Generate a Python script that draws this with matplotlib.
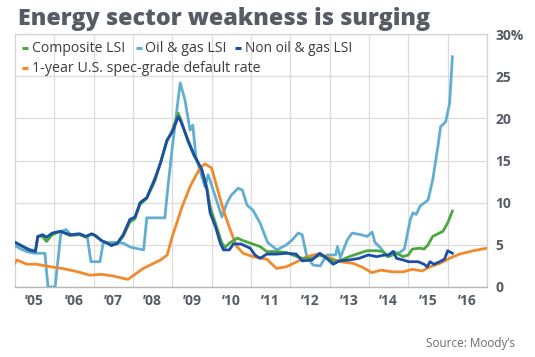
import matplotlib
matplotlib.use("Agg")
import matplotlib.pyplot as plt
import numpy as np

# ---- data (years as decimal, values in %) ----
comp_x = [2005.0, 2005.2, 2005.4, 2005.52, 2005.58, 2005.7, 2005.8, 2005.95, 2006.15, 2006.4, 2006.65, 2006.8,
          2006.95, 2007.05, 2007.2, 2007.45, 2007.6, 2007.75, 2007.92, 2008.05, 2008.18, 2008.35, 2008.56, 2008.7,
          2008.86, 2009.0, 2009.15, 2009.22, 2009.4, 2009.55, 2009.75, 2009.88, 2009.96, 2010.1, 2010.25, 2010.34,
          2010.45, 2010.65, 2010.8, 2010.98, 2011.23, 2011.4, 2011.65, 2011.9, 2012.17, 2012.3, 2012.55, 2012.75,
          2012.9, 2013.15, 2013.3, 2013.5, 2013.75, 2013.95, 2014.2, 2014.35, 2014.5, 2014.6, 2014.7, 2014.87,
          2015.0, 2015.1, 2015.3, 2015.4, 2015.5, 2015.62, 2015.75, 2015.88, 2016.0, 2016.12]
comp_y = [5.3, 4.8, 4.4, 4.3, 6.0, 6.0, 5.4, 6.2, 6.6, 6.1, 6.2, 5.9,
          6.3, 6.0, 5.5, 5.0, 5.1, 6.0, 7.7, 8.1, 9.8, 10.5, 12.6, 14.8,
          17.2, 18.6, 20.6, 19.8, 17.2, 15.6, 13.9, 11.8, 9.5, 7.5, 5.3, 4.7,
          5.2, 5.8, 5.5, 5.2, 4.8, 4.2, 4.2, 4.1, 3.6, 3.4, 3.4, 3.8,
          3.5, 3.0, 3.2, 3.6, 4.0, 4.3, 4.3, 4.2, 3.6, 3.8, 4.0, 3.6,
          3.8, 4.5, 4.6, 4.5, 5.0, 6.0, 6.3, 6.6, 7.6, 9.0]

oil_x = [2005.0, 2005.15, 2005.3, 2005.5, 2005.76, 2005.84, 2006.02, 2006.17, 2006.3, 2006.42, 2006.6, 2006.84,
         2006.93, 2007.16, 2007.24, 2007.5, 2007.75, 2007.95, 2008.27, 2008.35, 2008.81, 2008.88, 2009.0, 2009.2,
         2009.32, 2009.45, 2009.52, 2009.6, 2009.83, 2009.91, 2010.04, 2010.26, 2010.39, 2010.5, 2010.67, 2010.78,
         2010.9, 2011.05, 2011.23, 2011.42, 2011.66, 2011.9, 2012.05, 2012.2, 2012.3, 2012.42, 2012.58, 2012.76,
         2012.93, 2013.15, 2013.2, 2013.27, 2013.45, 2013.57, 2013.8, 2013.95, 2014.08, 2014.15, 2014.3, 2014.46,
         2014.6, 2014.75, 2014.9, 2014.98, 2015.05, 2015.12, 2015.2, 2015.3, 2015.5, 2015.62, 2015.75, 2015.82,
         2015.95, 2016.05, 2016.12]
oil_y = [4.9, 4.5, 4.2, 4.0, 4.0, 0.0, 0.0, 6.6, 6.8, 6.2, 6.3, 5.9,
         3.0, 3.0, 5.2, 5.3, 5.2, 4.7, 4.4, 8.2, 8.2, 11.5, 16.6, 24.2,
         22.2, 18.6, 19.2, 15.4, 11.9, 13.3, 11.5, 8.3, 10.0, 10.9, 11.7, 11.5,
         9.7, 9.1, 7.6, 5.3, 4.4, 5.0, 5.6, 6.4, 6.2, 3.6, 2.6, 2.5,
         3.8, 3.8, 4.8, 3.5, 5.6, 6.4, 6.2, 6.0, 6.5, 5.3, 4.6, 3.6,
         4.2, 4.0, 4.5, 6.4, 8.0, 8.8, 8.6, 9.6, 10.3, 12.7, 16.6, 19.0,
         19.6, 21.8, 27.3]

non_x = [2005.0, 2005.2, 2005.35, 2005.52, 2005.58, 2005.7, 2005.8, 2005.95, 2006.15, 2006.4, 2006.65, 2006.8,
         2006.95, 2007.05, 2007.2, 2007.35, 2007.45, 2007.6, 2007.75, 2007.92, 2008.05, 2008.18, 2008.35, 2008.56,
         2008.7, 2008.86, 2009.0, 2009.15, 2009.22, 2009.4, 2009.55, 2009.75, 2009.88, 2009.96, 2010.1, 2010.22,
         2010.3, 2010.45, 2010.55, 2010.75, 2010.98, 2011.1, 2011.23, 2011.4, 2011.65, 2011.9, 2012.15, 2012.3,
         2012.55, 2012.75, 2012.9, 2013.09, 2013.25, 2013.5, 2013.75, 2013.98, 2014.2, 2014.4, 2014.5, 2014.62,
         2014.7, 2014.87, 2015.0, 2015.25, 2015.4, 2015.48, 2015.55, 2015.65, 2015.8, 2015.92, 2016.0, 2016.12]
non_y = [5.3, 4.8, 4.4, 4.2, 6.0, 6.2, 5.9, 6.4, 6.6, 6.2, 6.3, 6.0,
         6.3, 6.1, 5.5, 5.2, 4.9, 5.2, 6.2, 8.0, 8.3, 10.0, 10.6, 12.9,
         14.7, 17.4, 18.4, 20.2, 19.6, 17.4, 15.7, 13.9, 11.5, 8.8, 7.1, 5.2,
         4.4, 4.4, 5.1, 5.1, 4.6, 3.8, 3.4, 3.9, 3.9, 4.0, 3.9, 3.1,
         3.2, 4.0, 3.5, 2.7, 3.1, 3.2, 3.4, 3.8, 3.6, 3.8, 3.8, 4.2,
         3.4, 3.2, 3.0, 3.0, 2.7, 2.4, 3.0, 2.7, 3.0, 3.3, 4.3, 4.0]

dflt_x = [2005.0, 2005.05, 2005.3, 2005.55, 2005.9, 2006.2, 2006.6, 2006.9, 2007.2, 2007.5, 2007.87, 2008.26,
          2008.7, 2008.87, 2009.0, 2009.24, 2009.45, 2009.7, 2009.83, 2010.0, 2010.13, 2010.3, 2010.47, 2010.64,
          2010.8, 2011.05, 2011.4, 2011.65, 2011.9, 2012.17, 2012.42, 2012.68, 2012.93, 2013.26, 2013.6, 2013.85,
          2014.07, 2014.3, 2014.6, 2014.87, 2015.1, 2015.35, 2015.55, 2015.8, 2016.05, 2016.3, 2016.65, 2017.0]
dflt_y = [2.85, 3.2, 2.7, 2.7, 2.4, 2.2, 1.8, 1.4, 1.5, 1.3, 0.9, 2.2,
          3.2, 3.8, 6.0, 9.4, 11.9, 14.1, 14.6, 14.1, 11.9, 9.1, 6.8, 4.8,
          4.0, 3.6, 3.3, 2.2, 2.4, 3.0, 3.6, 3.9, 3.6, 3.0, 2.8, 2.3,
          1.7, 2.0, 1.8, 1.8, 2.1, 1.9, 2.4, 2.8, 3.4, 3.9, 4.3, 4.6]

years = list(range(2005, 2017))
year_labels = ["\u201905", "\u201906", "\u201907", "\u201908", "\u201909", "\u201910",
               "\u201911", "\u201912", "\u201913", "\u201914", "\u201915", "\u201916"]
y_ticks = [0, 5, 10, 15, 20, 25, 30]
y_labels = ["0", "5", "10", "15", "20", "25", "30%"]

series_names = ["Composite LSI", "Oil & gas LSI", "Non oil & gas LSI", "1-year U.S. spec-grade default rate"]

C_COMP = "#4aa83e"
C_OIL = "#62aed2"
C_NON = "#1c4ea6"
C_DEF = "#f08a2c"
GRAY_T = "#575c64"

plt.rcParams['font.family'] = ['Open Sans', 'DejaVu Sans']

fig = plt.figure(figsize=(5.35, 3.57), dpi=100)
W, H = 535, 357
L, R, T, B = 15, 487, 34, 287
ax = fig.add_axes([L / W, 1 - B / H, (R - L) / W, (B - T) / H])
renderer = fig.canvas.get_renderer()


def fit_text(x_px, y_px, s, target_w, size0, **kw):
    t = fig.text(x_px / W, 1 - y_px / H, s, fontsize=size0, **kw)
    w = t.get_window_extent(renderer).width
    t.set_fontsize(size0 * target_w / w)
    return t


LW = 2.0
ax.plot(oil_x, oil_y, color=C_OIL, lw=LW, zorder=3, solid_joinstyle='round')
ax.plot(dflt_x, dflt_y, color=C_DEF, lw=LW, zorder=4, solid_joinstyle='round')
ax.plot(comp_x, comp_y, color=C_COMP, lw=LW, zorder=5, solid_joinstyle='round')
ax.plot(non_x, non_y, color=C_NON, lw=LW, zorder=6, solid_joinstyle='round')

ax.set_xlim(2005, 2017)
ax.set_ylim(0, 30)
ax.set_xticks(years[1:] + [2017], minor=False)
ax.set_xticks([y + 0.5 for y in years], minor=True)
ax.set_xticklabels([])
ax.set_xticklabels(year_labels, minor=True)
ax.tick_params(axis='x', which='both', length=0, pad=5)
ax.tick_params(axis='x', which='minor', labelsize=10, labelcolor=GRAY_T)
for lbl in ax.get_xticklabels(minor=True):
    lbl.set_fontweight('bold')
ax.set_yticks(y_ticks)
ax.set_yticklabels(y_labels)
ax.yaxis.tick_right()
ax.tick_params(axis='y', length=0, pad=6, labelsize=10, labelcolor=GRAY_T)
for lbl in ax.get_yticklabels():
    lbl.set_fontweight('bold')

ax.grid(True, which='major', color='#dcdcdc', lw=0.9, zorder=0)
for s in ['left', 'top', 'right']:
    ax.spines[s].set_color('#d4d4d4')
    ax.spines[s].set_linewidth(0.9)
ax.spines['bottom'].set_color('#b8b8b8')
ax.spines['bottom'].set_linewidth(1.0)

# legend (manual layout): (name, colour, dash x, text x, text width in px)
leg_items = [(series_names[0], C_COMP, 22, 32, 93, 48),
             (series_names[1], C_OIL, 136, 145, 82, 48),
             (series_names[2], C_NON, 235, 245, 107, 48),
             (series_names[3], C_DEF, 22, 32, 230, 68)]
for name, col, dx, tx, tw, ry in leg_items:
    yf = 1 - ry / H
    fig.add_artist(plt.Line2D([dx / W, (dx + 6) / W], [yf, yf], color=col, lw=2.2, solid_capstyle='butt'))
    fit_text(tx, ry, name, tw, 10, color="#3c3c3c", va='center', ha='left')

fit_text(18, 25, "Energy sector weakness is surging", 412, 16, fontweight='heavy',
         color=GRAY_T, va='baseline', ha='left')
fig.text(515 / W, 1 - 343 / H, "Source: Moody\u2019s", fontsize=8.5, color="#6b6b6b", va='center', ha='right')

fig.savefig("out.png", dpi=100)
